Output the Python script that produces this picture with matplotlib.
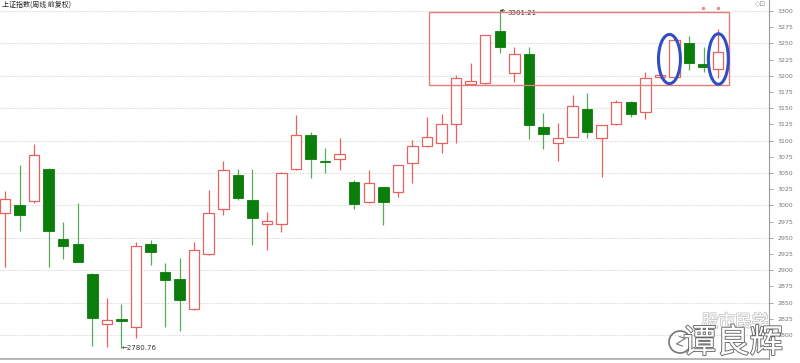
import numpy as np
import matplotlib.pyplot as plt
from matplotlib.patches import Rectangle, Ellipse, Circle
import matplotlib.patheffects as pe

plt.rcParams['font.family'] = ['Noto Sans CJK SC', 'DejaVu Sans']

# weekly candles
opens = [2988, 3000, 3007, 3057, 2949, 2940, 2895, 2817, 2825, 2813,
         2940, 2897, 2886, 2840, 2925, 2994, 3047, 3008, 2971, 2972,
         3056, 3108, 3068, 3071, 3037, 3005, 3028, 3021, 3065, 3092,
         3096, 3125, 3187, 3189, 3270, 3204, 3234, 3121, 3096, 3106,
         3149, 3104, 3125, 3160, 3144, 3198, 3199, 3250, 3218, 3210]
highs = [3022, 3062, 3095, 3058, 2975, 3004, 2896, 2858, 2848, 2943,
         2947, 2911, 2919, 2944, 3024, 3068, 3057, 3057, 2990, 3051,
         3140, 3113, 3088, 3104, 3040, 3054, 3029, 3063, 3101, 3136,
         3141, 3201, 3220, 3263, 3301.21, 3245, 3245, 3142, 3128, 3170,
         3174, 3124, 3163, 3161, 3206, 3203, 3259, 3261, 3245, 3273]
lows = [2905, 2960, 3004, 2905, 2917, 2913, 2783, 2782, 2780.76, 2795,
        2908, 2812, 2807, 2838, 2924, 2985, 3008, 2939, 2931, 2959,
        3055, 3042, 3050, 3054, 2995, 3004, 2970, 3013, 3034, 3091,
        3081, 3097, 3186, 3188, 3236, 3191, 3102, 3087, 3068, 3105,
        3104, 3044, 3124, 3137, 3133, 3197, 3198, 3209, 3206, 3196]
closes = [3010, 2985, 3078, 2960, 2938, 2913, 2827, 2824, 2821, 2938,
          2928, 2885, 2854, 2932, 2988, 3054, 3012, 2980, 2976, 3050,
          3109, 3071, 3067, 3079, 3003, 3034, 3005, 3063, 3092, 3105,
          3125, 3196, 3192, 3263, 3245, 3233, 3124, 3111, 3104, 3154,
          3114, 3124, 3160, 3141, 3196, 3202, 3255, 3220, 3214, 3237]

title = '上证指数(周线 前复权)'
yticks = list(range(2800, 3301, 25))
grid_levels = list(range(2800, 3301, 50))
high_label = '3301.21'
low_label = '2780.76'

fig = plt.figure(figsize=(8, 3.63), dpi=100)
ax = fig.add_axes([0, 4 / 363, 769 / 800, 359 / 363])

red = '#e6625e'
green = '#0a7d0a'
green_wick = '#5aa85a'
w = 0.72

ax.hlines(grid_levels, -1, 60, colors='#dcdcdc', linestyles=(0, (1.5, 1.2)), lw=0.8, zorder=0)

for i in range(len(opens)):
    o, h, l, c = opens[i], highs[i], lows[i], closes[i]
    if c > o:
        ax.vlines(i, l, h, color=red, lw=0.9, zorder=2)
        ax.add_patch(Rectangle((i - w / 2, o), w, c - o, facecolor='white',
                               edgecolor=red, lw=0.9, zorder=3))
    else:
        ax.vlines(i, l, h, color=green_wick, lw=0.9, zorder=2)
        ax.add_patch(Rectangle((i - w / 2, c), w, max(o - c, 1.5), facecolor=green,
                               edgecolor=green, lw=0.6, zorder=3))

# highlighted zone and circled candles
ax.add_patch(Rectangle((29.14, 3186), 20.62, 112.5, fill=False, edgecolor='#e47c7c', lw=1, zorder=4))
ax.add_patch(Ellipse((45.66, 3226), 1.51, 76, fill=False, edgecolor='#2f4fc2', lw=2.2, zorder=5))
ax.add_patch(Ellipse((49.02, 3226), 1.37, 78, fill=False, edgecolor='#2f4fc2', lw=2.2, zorder=5))
ax.plot([47.95, 48.98], [3304, 3304], ls='none', marker='o', ms=1.5, color='#f08a8a')

# max / min labels
ax.annotate(high_label, xy=(34, 3301.21), xytext=(34.55, 3297.5), fontsize=5, va='center',
            color='#333', family='DejaVu Sans',
            arrowprops=dict(arrowstyle='->', lw=0.5, color='#333', shrinkA=0, shrinkB=0))
ax.text(8.0, 2780.76, '\u2190' + low_label, fontsize=5, va='center', color='#333', family='DejaVu Sans')

ax.set_xlim(-0.344, 52.5)
ax.set_ylim(2763.1, 3317.1)
ax.set_xticks([])
ax.set_yticks(yticks)
ax.yaxis.tick_right()
ax.tick_params(axis='y', direction='out', length=3, width=0.6, color='#999999',
               labelsize=4.5, labelcolor='#777777', pad=3)
for lab in ax.get_yticklabels():
    lab.set_family('DejaVu Sans')
ax.spines['left'].set_visible(False)
ax.spines['top'].set_visible(False)
ax.spines['right'].set_color('#9a9a9a')
ax.spines['right'].set_linewidth(0.8)
ax.spines['bottom'].set_color('#aaaaaa')
ax.spines['bottom'].set_linewidth(1.2)

fig.text(0.002, 1 - 5 / 363, title, fontsize=5, va='center', color='#222222')
fig.text(755 / 800, 1 - 4 / 363, '\u25c7\u22a1', fontsize=5, va='center', color='#999999',
         family='DejaVu Sans')

# watermark
fig.text(735 / 800, 1 - 322 / 363, '股市民学', fontsize=12, ha='center', va='center', color='white',
         path_effects=[pe.withStroke(linewidth=1.2, foreground='#c8c8c8')], zorder=10)
fig.text(733 / 800, 1 - 343 / 363, '谭良辉', fontsize=24, ha='center', va='center', color='white',
         path_effects=[pe.withStroke(linewidth=1.3, foreground='#666666')], zorder=11)
fig.add_artist(Circle((6.8, 0.21), 0.11, transform=fig.dpi_scale_trans, fill=False,
                      edgecolor='#777777', lw=1.2, zorder=11))
fig.text(680 / 800, 1 - 342 / 363, 'Z', fontsize=9, ha='center', va='center', color='#777777',
         rotation=-20, family='DejaVu Sans', zorder=12)

fig.savefig('out.png', dpi=100)
